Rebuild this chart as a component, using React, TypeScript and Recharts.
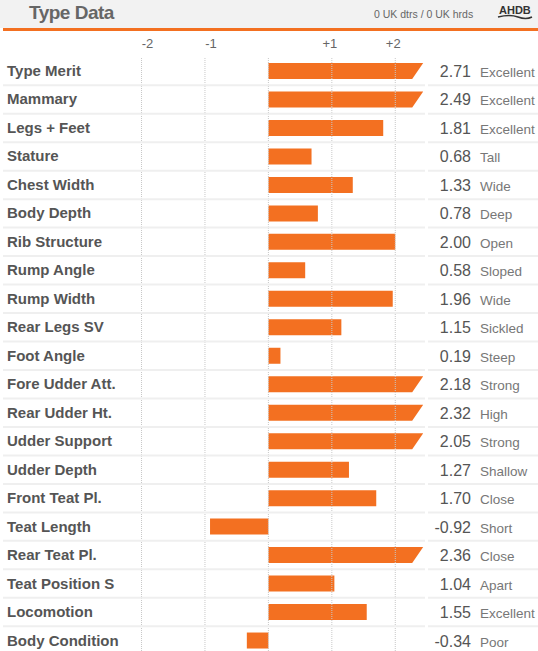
import React from 'react';
import { BarChart, Bar, XAxis, YAxis, ReferenceLine, LabelList } from 'recharts';

const traits = [
  'Type Merit', 'Mammary', 'Legs + Feet', 'Stature', 'Chest Width', 'Body Depth',
  'Rib Structure', 'Rump Angle', 'Rump Width', 'Rear Legs SV', 'Foot Angle',
  'Fore Udder Att.', 'Rear Udder Ht.', 'Udder Support', 'Udder Depth',
  'Front Teat Pl.', 'Teat Length', 'Rear Teat Pl.', 'Teat Position S',
  'Locomotion', 'Body Condition',
];
const scores = [
  2.71, 2.49, 1.81, 0.68, 1.33, 0.78, 2.0, 0.58, 1.96, 1.15, 0.19,
  2.18, 2.32, 2.05, 1.27, 1.7, -0.92, 2.36, 1.04, 1.55, -0.34,
];
const descriptions = [
  'Excellent', 'Excellent', 'Excellent', 'Tall', 'Wide', 'Deep', 'Open', 'Sloped',
  'Wide', 'Sickled', 'Steep', 'Strong', 'High', 'Strong', 'Shallow', 'Close',
  'Short', 'Close', 'Apart', 'Excellent', 'Poor',
];
const axisTicks = [-2, -1, 0, 1, 2];

// anything above +2 is drawn out to the cap with a slanted end
const CAP = 2.44;
const ORANGE = '#f37021';
const FONT = '"Liberation Sans", Arial, sans-serif';

const CHART_W = 538;
const CHART_H = 625;
const TOP_PAD = 27;
const LEFT_W = 132;
const RIGHT_W = 111;
const ROW_H = (CHART_H - TOP_PAD) / traits.length;

const data = traits.map((name, i) => ({
  name,
  score: scores[i],
  shown: scores[i] > 2 ? CAP : scores[i],
  desc: descriptions[i],
}));

const BarShape = (props: any) => {
  let { x, y, width, height, payload } = props;
  if (width < 0) {
    x += width;
    width = -width;
  }
  const slant = payload.score > 2 ? 11 : 0;
  const d = `M${x},${y} L${x + width},${y} L${x + width - slant},${y + height} L${x},${y + height} Z`;
  return <path d={d} fill={ORANGE} />;
};

const tickLabel = (v: number) => (props: any) => {
  if (v === 0) return null;
  const { x, y } = props.viewBox;
  return (
    <text x={x + (v < 0 ? 6 : -2)} y={y - 9} textAnchor="middle" fill="#666" fontSize={13} fontFamily={FONT}>
      {v > 0 ? `+${v}` : `${v}`}
    </text>
  );
};

// row label, value, description and the light separator under the row
const RowLabels = (props: any) => {
  const { y, height, index } = props;
  const row = data[index];
  if (!row) return null;
  const cy = y + height / 2;
  const sep = cy + ROW_H / 2;
  return (
    <g>
      <text x={7} y={cy + 5} fill="#555" fontSize={15} fontWeight={700} fontFamily={FONT}>
        {row.name}
      </text>
      <text x={471} y={cy + 6} textAnchor="end" fill="#555" fontSize={16} fontFamily={FONT}>
        {row.score.toFixed(2)}
      </text>
      <text x={480} y={cy + 6} fill="#777" fontSize={13.5} fontFamily={FONT}>
        {row.desc}
      </text>
      <line x1={3} x2={425} y1={sep} y2={sep} stroke="#efefef" strokeWidth={2} />
      <line x1={428} x2={538} y1={sep} y2={sep} stroke="#efefef" strokeWidth={2} />
    </g>
  );
};

export default function App() {
  return (
    <div
      style={{
        position: 'absolute',
        left: 0,
        top: 0,
        width: 538,
        height: 651,
        overflow: 'hidden',
        background: '#fff',
        fontFamily: FONT,
      }}
    >
      <div style={{ position: 'absolute', left: 0, top: 0, width: 538, height: 28, background: '#f2f2f2' }}>
        <div style={{ position: 'absolute', left: 29, top: 2, fontSize: 19, fontWeight: 700, color: '#666', letterSpacing: -0.5 }}>
          Type Data
        </div>
        <div style={{ position: 'absolute', left: 374, top: 8, fontSize: 10.5, color: '#666' }}>
          0 UK dtrs / 0 UK hrds
        </div>
        <svg style={{ position: 'absolute', left: 496, top: 2 }} width={40} height={20}>
          <text x={3} y={12} fontSize={11} fontWeight={700} fill="#333" fontFamily={FONT}>
            AHDB
          </text>
          <path d="M2,15 Q14,12 22,15 T36,15" stroke="#333" strokeWidth={1.5} fill="none" />
        </svg>
      </div>
      <div style={{ position: 'absolute', left: 3, top: 28, width: 535, height: 3, background: ORANGE }} />
      <div style={{ position: 'absolute', left: 0, top: 30 }}>
        <BarChart
          width={CHART_W}
          height={CHART_H}
          data={data}
          layout="vertical"
          margin={{ top: TOP_PAD, right: RIGHT_W, bottom: 0, left: LEFT_W }}
        >
          <XAxis type="number" domain={[-2.15, 2.5]} allowDataOverflow hide />
          <YAxis type="category" dataKey="name" hide />
          {axisTicks.map((t) => (
            <ReferenceLine key={t} x={t} stroke="#c8c8c8" strokeDasharray="1 1" label={tickLabel(t)} />
          ))}
          <Bar dataKey="shown" barSize={16} shape={<BarShape />} isAnimationActive={false}>
            <LabelList dataKey="name" content={<RowLabels />} />
          </Bar>
        </BarChart>
      </div>
    </div>
  );
}
